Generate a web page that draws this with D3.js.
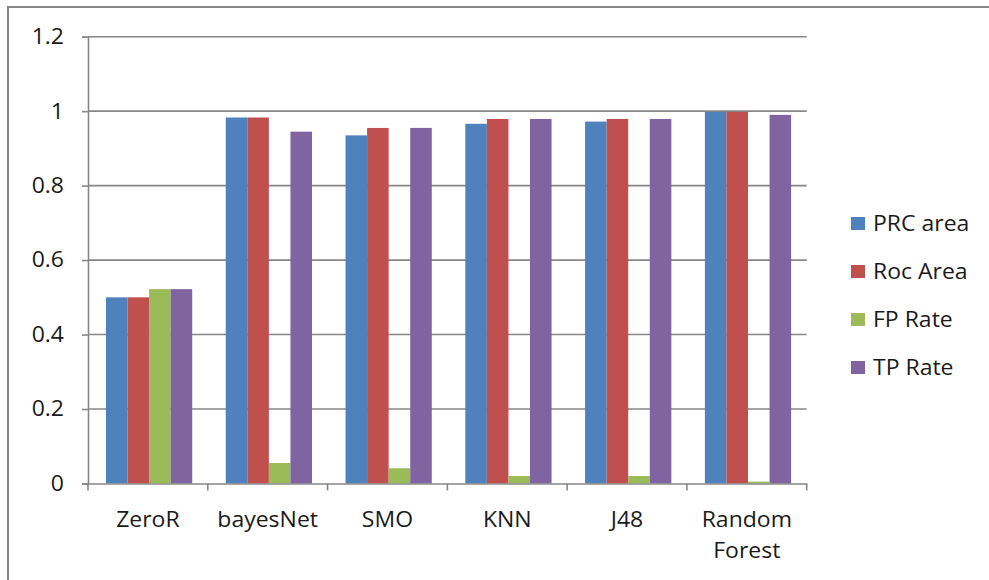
<!DOCTYPE html>
<html>
<head>
<meta charset="utf-8">
<script src="https://cdn.jsdelivr.net/npm/d3@7"></script>
<style>
  body { margin: 0; background: #fff; }
  svg text { font-family: "Open Sans", Lato, sans-serif; fill: #1a1a1a; }
</style>
</head>
<body>
<div id="root"></div>
<script>
const categories = ["ZeroR", "bayesNet", "SMO", "KNN", "J48", "Random Forest"];
const seriesNames = ["PRC area", "Roc Area", "FP Rate", "TP Rate"];
const prcArea = [0.5, 0.983, 0.935, 0.966, 0.972, 0.998];
const rocArea = [0.5, 0.983, 0.955, 0.979, 0.979, 0.998];
const fpRate = [0.522, 0.055, 0.041, 0.02, 0.02, 0.005];
const tpRate = [0.522, 0.945, 0.955, 0.979, 0.979, 0.99];
const yTicks = [0, 0.2, 0.4, 0.6, 0.8, 1, 1.2];
const colors = ["#4f81bd", "#c0504d", "#9bbb59", "#8064a2"];

const seriesValues = [prcArea, rocArea, fpRate, tpRate];
const rows = categories.map((c, i) => ({
  name: c,
  values: seriesNames.map((s, j) => ({ key: s, value: seriesValues[j][i] }))
}));

const w = 989;
const h = 580;
const plotLeft = 88, plotRight = 806.7, plotTop = 36.7, plotBottom = 483.5;
const grey = "#878787";
const fontSize = 21.5;
const stretch = 1.07; // the source image is a bit wider than tall

const svg = d3.select("#root")
  .append("svg")
  .attr("width", w)
  .attr("height", h);

// outer frame (only top and left are in view)
svg.append("path")
  .attr("d", `M8,${h} V7 H${w}`)
  .attr("fill", "none")
  .attr("stroke", grey)
  .attr("stroke-width", 2);

const x0 = d3.scaleBand()
  .domain(categories)
  .range([plotLeft, plotRight]);

const x1 = d3.scaleBand()
  .domain(seriesNames)
  .range([x0.bandwidth() * 0.15, x0.bandwidth() * 0.87]);

const yScale = d3.scaleLinear()
  .domain([0, 1.2])
  .range([plotBottom, plotTop]);

// gridlines
svg.append("g")
  .selectAll("line")
  .data(yTicks.filter(d => d > 0))
  .enter()
  .append("line")
  .attr("x1", plotLeft)
  .attr("x2", plotRight)
  .attr("y1", d => yScale(d))
  .attr("y2", d => yScale(d))
  .attr("stroke", grey)
  .attr("stroke-width", 1.6);

// bars
svg.append("g")
  .selectAll("g")
  .data(rows)
  .enter()
  .append("g")
  .attr("transform", d => `translate(${x0(d.name)},0)`)
  .selectAll("rect")
  .data(d => d.values)
  .enter()
  .append("rect")
  .attr("x", d => x1(d.key))
  .attr("y", d => yScale(d.value))
  .attr("width", x1.bandwidth())
  .attr("height", d => yScale(0) - yScale(d.value))
  .attr("fill", (d, i) => colors[i]);

// y axis
const yAxis = d3.axisLeft(yScale)
  .tickValues(yTicks)
  .tickFormat(d => d3.format("")(d))
  .tickSize(6)
  .tickPadding(0);

const gy = svg.append("g")
  .attr("transform", `translate(${plotLeft},0)`)
  .call(yAxis);
gy.selectAll("path, line").attr("stroke", grey).attr("stroke-width", 1.6);
gy.selectAll("text")
  .attr("x", null)
  .attr("font-size", fontSize)
  .attr("font-family", "'Open Sans', sans-serif")
  .attr("fill", "#1a1a1a")
  .attr("transform", `translate(-24,0) scale(${stretch},1)`);

// x axis
const xAxis = d3.axisBottom(x0).tickSize(0).tickFormat("");
const gx = svg.append("g")
  .attr("transform", `translate(0,${plotBottom})`)
  .call(xAxis);
gx.select("path").attr("stroke", grey).attr("stroke-width", 1.6);

svg.append("g")
  .selectAll("line")
  .data(categories.concat([null]))
  .enter()
  .append("line")
  .attr("x1", (d, i) => plotLeft + i * x0.step())
  .attr("x2", (d, i) => plotLeft + i * x0.step())
  .attr("y1", plotBottom)
  .attr("y2", plotBottom + 7)
  .attr("stroke", grey)
  .attr("stroke-width", 1.6);

// category labels, wrapped on space for the long one
const labels = svg.append("g")
  .selectAll("text")
  .data(categories)
  .enter()
  .append("text")
  .attr("text-anchor", "middle")
  .attr("font-size", fontSize)
  .attr("transform", d => `translate(${x0(d) + x0.bandwidth() / 2},527) scale(${stretch},1)`);

labels.each(function(d) {
  const words = d.length > 10 ? d.split(" ") : [d];
  const t = d3.select(this);
  words.forEach((word, i) => {
    t.append("tspan")
      .attr("x", 0)
      .attr("dy", i === 0 ? 0 : 31)
      .text(word);
  });
});

// legend
const legend = svg.append("g")
  .selectAll("g")
  .data(seriesNames)
  .enter()
  .append("g")
  .attr("transform", (d, i) => `translate(851,${223.5 + i * 48})`);

legend.append("rect")
  .attr("x", 0)
  .attr("y", -6.5)
  .attr("width", 14)
  .attr("height", 13)
  .attr("fill", (d, i) => colors[i]);

legend.append("text")
  .attr("font-size", fontSize)
  .attr("transform", `translate(22,7.5) scale(${stretch},1)`)
  .text(d => d);
</script>
</body>
</html>
